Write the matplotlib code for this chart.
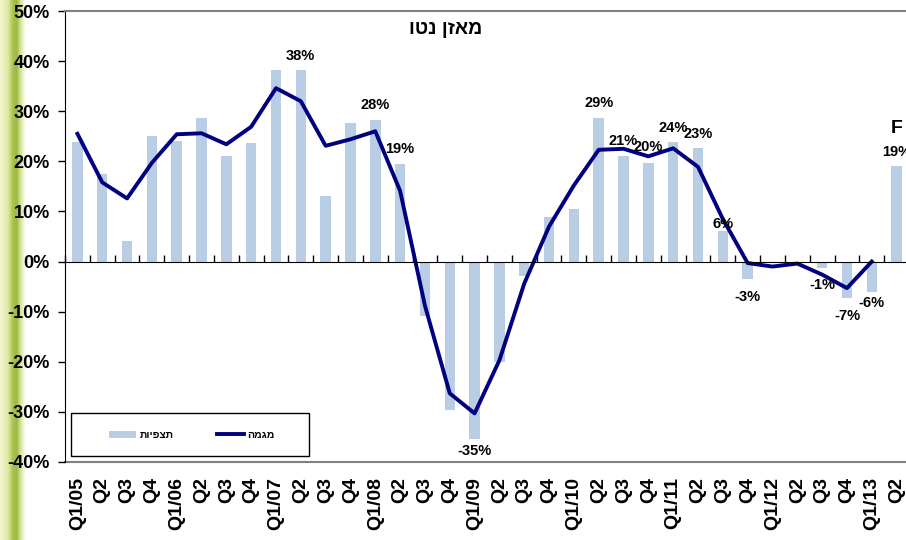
import numpy as np
import matplotlib
matplotlib.use('Agg')
import matplotlib.pyplot as plt
from matplotlib.colors import LinearSegmentedColormap
from matplotlib.patches import Rectangle

plt.rcParams['font.family'] = ['Liberation Sans', 'DejaVu Sans']
plt.rcParams['font.weight'] = 'bold'

# categories (quarters 2005 - Q2 2013)
quarters = ['Q1/05', 'Q2', 'Q3', 'Q4', 'Q1/06', 'Q2', 'Q3', 'Q4',
            'Q1/07', 'Q2', 'Q3', 'Q4', 'Q1/08', 'Q2', 'Q3', 'Q4',
            'Q1/09', 'Q2', 'Q3', 'Q4', 'Q1/10', 'Q2', 'Q3', 'Q4',
            'Q1/11', 'Q2', 'Q3', 'Q4', 'Q1/12', 'Q2', 'Q3', 'Q4',
            'Q1/13', 'Q2']

# expectations (bars), %
expect = [23.8, 17.4, 4.2, 25.0, 24.0, 28.6, 21.1, 23.7,
          38.3, 38.3, 13.0, 27.7, 28.2, 19.4, -10.8, -29.6,
          -35.4, -20.1, -2.8, 8.9, 10.4, 28.6, 21.1, 19.6,
          23.9, 22.7, 6.1, -3.4, 0.0, 0.0, -1.3, -7.2,
          -6.0, 19.0]

# trend (line), %
trend = [25.5, 15.8, 12.6, 19.7, 25.4, 25.6, 23.4, 26.9,
         34.6, 32.0, 23.1, 24.4, 26.0, 14.1, -8.8, -26.3,
         -30.3, -19.7, -4.4, 7.0, 15.2, 22.3, 22.5, 21.0,
         22.6, 18.9, 8.5, -0.3, -1.0, -0.4, -2.6, -5.3,
         0.0, np.nan]

# data labels: category index, text
label_idx = [9, 12, 13, 16, 21, 22, 23, 24, 25, 26, 27, 30, 31, 32, 33]
label_txt = ['38%', '28%', '19%', '-35%', '29%', '21%', '20%', '24%', '23%',
             '6%', '-3%', '-1%', '-7%', '-6%', '19%']
# vertical offsets of label centres from bar end (pixels)
label_off = [14, 15, 15, -12, 15, 15, 16, 14, 14, 7, -18, -17, -18, -11, 14]

title = 'מאזן נטו'
name_bars = 'תצפיות'
name_line = 'מגמה'

def heb(s):
    # matplotlib has no bidi support, so flip the Hebrew text
    return s[::-1]

x = np.arange(len(quarters))

fig = plt.figure(figsize=(9.06, 5.40), dpi=100)

# green strip on the left (slide background)
strip = fig.add_axes([0, 0, 26 / 906, 1])
cmap = LinearSegmentedColormap.from_list(
    'strip', [(0, '#f2f7d2'), (0.30, '#dfeaa6'), (0.50, '#a9c24e'),
              (0.65, '#9fb845'), (0.80, '#d6e59a'), (1.0, '#ffffff')])
strip.imshow(np.linspace(0, 1, 100)[None, :], aspect='auto', cmap=cmap)
strip.set_axis_off()

ax = fig.add_axes([65 / 906, 78 / 540, 844 / 906, 451 / 540])

bars = ax.bar(x, expect, width=0.42, color='#b9cde5', zorder=2)
line, = ax.plot(x, trend, color='#000080', lw=2.8, zorder=3)

ax.set_xlim(-0.5, len(quarters) - 0.5)
ax.set_ylim(-40, 50)
ax.set_yticks(np.arange(-40, 51, 10))
ax.set_yticklabels([f'{v}%' for v in range(-40, 51, 10)], fontsize=13,
                   fontweight='bold')
ax.tick_params(axis='y', direction='out', length=5, width=1, pad=6)

# category axis crosses at 0, ticks between categories
ax.spines['bottom'].set_position(('data', 0))
ax.spines['bottom'].set_color('black')
ax.spines['bottom'].set_zorder(4)
ax.set_xticks(np.arange(-0.5, len(quarters), 1.0))
ax.set_xticklabels([])
ax.tick_params(axis='x', direction='in', length=5, width=1, color='black')
ax.spines['left'].set_color('black')
ax.spines['top'].set_color('#808080')
ax.spines['top'].set_linewidth(1.5)
ax.spines['right'].set_visible(False)

# labels at the bottom of the plot
sec = ax.secondary_xaxis(0.0)
sec.set_xticks(x)
sec.set_xticklabels(quarters, rotation=90, fontsize=14, fontweight='bold',
                    va='top')
sec.tick_params(length=0, pad=11)
sec.spines['bottom'].set_color('#808080')
sec.spines['bottom'].set_linewidth(1.5)

for i, t, off in zip(label_idx, label_txt, label_off):
    ax.annotate(t, (x[i], expect[i]), xytext=(0, off * 0.72),
                textcoords='offset points', ha='center', va='center',
                fontsize=10.5, fontweight='bold', zorder=5)

ax.annotate('F', (x[33], expect[33]), xytext=(0, 38 * 0.72),
            textcoords='offset points', ha='center', va='center',
            fontsize=14, fontweight='bold')

fig.text(446 / 906, 1 - 30 / 540, heb(title), ha='center', va='center',
         fontsize=14, fontweight='bold')

# legend box
ax.add_patch(Rectangle((6 / 844, 6 / 451), 238 / 844, 43 / 451,
                       transform=ax.transAxes, facecolor='white',
                       edgecolor='black', lw=1, zorder=6))
leg = ax.legend([bars, line], [heb(name_bars), heb(name_line)],
                loc='center', bbox_to_anchor=(127 / 844, 27 / 451),
                ncol=2, frameon=False, handlelength=2.6, handleheight=0.7,
                handletextpad=0.3, columnspacing=4.2, borderaxespad=0,
                prop={'weight': 'bold', 'size': 7.5})
leg.set_zorder(7)

fig.savefig('out.png', dpi=100)
